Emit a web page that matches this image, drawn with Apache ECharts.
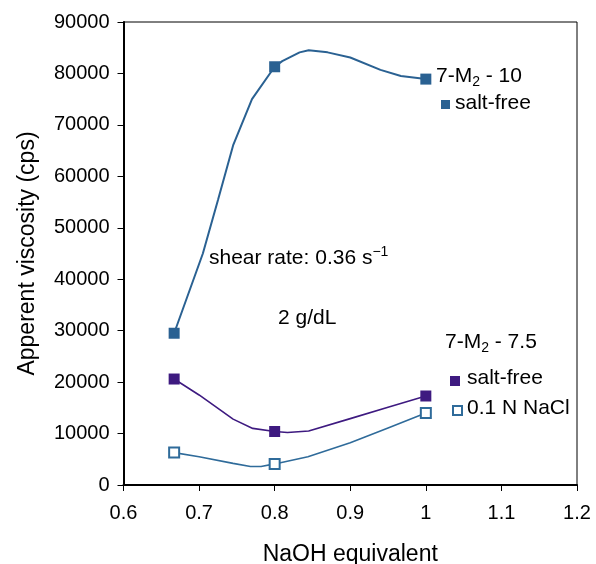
<!DOCTYPE html>
<html>
<head>
<meta charset="utf-8">
<script src="https://cdn.jsdelivr.net/npm/echarts@6/dist/echarts.min.js"></script>
<style>html,body{margin:0;padding:0;background:#fff;}#c{width:596px;height:564px;}</style>
</head>
<body>
<div id="c"></div>
<script>
// Marker data (measured points)
const naohEq = [0.667, 0.8, 1.0];
const saltFree10 = [29500, 81300, 78900];
const saltFree75 = [20600, 10400, 17300];
const nacl75 = [6300, 4100, 14000];

// Smoothed trend curves
const curve10X = [0.667, 0.705, 0.725, 0.745, 0.77, 0.8, 0.81, 0.833, 0.845, 0.87, 0.9, 0.94, 0.967, 1.0];
const curve10Y = [29500, 45000, 55400, 66000, 75000, 81300, 82400, 84100, 84500, 84100, 83100, 80700, 79500, 78900];
const curveSalt75X = [0.667, 0.7, 0.745, 0.771, 0.8, 0.817, 0.845, 0.9, 0.95, 1.0];
const curveSalt75Y = [20600, 17500, 12800, 11000, 10400, 10200, 10500, 12900, 15100, 17300];
const curveNacl75X = [0.667, 0.7, 0.745, 0.768, 0.782, 0.8, 0.844, 0.9, 0.95, 1.0];
const curveNacl75Y = [6300, 5500, 4200, 3600, 3600, 4100, 5500, 8200, 11100, 14000];

// Axis ticks
const xTicks = [0.6, 0.7, 0.8, 0.9, 1, 1.1, 1.2];
const yTicks = [0, 10000, 20000, 30000, 40000, 50000, 60000, 70000, 80000, 90000];

const zip = (xs, ys) => xs.map((x, i) => [x, ys[i]]);

const BLUE = '#2a6192';
const PURPLE = '#3e1a80';
const OPENBLUE = '#2f6b9a';
const FONT = 'Liberation Sans';

const chart = echarts.init(document.getElementById('c'), null, {renderer: 'canvas'});
chart.setOption({
  animation: false,
  backgroundColor: '#fff',
  textStyle: {fontFamily: FONT},
  grid: {left: 123.5, right: 19, top: 22, bottom: 79, show: true, borderColor: '#000', borderWidth: 1,
    backgroundColor: 'transparent', containLabel: false, outerBoundsMode: 'none'},
  xAxis: {
    type: 'value', min: xTicks[0], max: xTicks[xTicks.length - 1], interval: 0.1,
    name: 'NaOH equivalent', nameLocation: 'middle', nameGap: 58,
    nameTextStyle: {fontSize: 23, color: '#000', fontFamily: FONT},
    axisLine: {show: true, onZero: false, lineStyle: {color: '#000', width: 2}},
    axisTick: {show: true, inside: false, length: 6, lineStyle: {color: '#000', width: 1}},
    axisLabel: {fontSize: 20, color: '#000', margin: 18, fontFamily: FONT,
      formatter: v => { const m = xTicks.find(t => Math.abs(t - v) < 1e-9); return m === undefined ? '' : String(m); }},
    splitLine: {show: false}
  },
  yAxis: {
    type: 'value', min: yTicks[0], max: yTicks[yTicks.length - 1], interval: 10000,
    name: 'Apperent viscosity (cps)', nameLocation: 'middle', nameGap: 84,
    nameTextStyle: {fontSize: 23, color: '#000', fontFamily: FONT},
    axisLine: {show: true, onZero: false, lineStyle: {color: '#000', width: 2}},
    axisTick: {show: true, inside: false, length: 6, lineStyle: {color: '#000', width: 1}},
    axisLabel: {fontSize: 20, color: '#000', margin: 14, fontFamily: FONT,
      formatter: v => String(Math.round(v))},
    splitLine: {show: false}
  },
  series: [
    {type: 'line', data: zip(curve10X, curve10Y), showSymbol: false, symbol: 'none', lineStyle: {color: BLUE, width: 2}, z: 2},
    {type: 'line', data: zip(curveSalt75X, curveSalt75Y), showSymbol: false, symbol: 'none', lineStyle: {color: PURPLE, width: 1.6}, z: 2},
    {type: 'line', data: zip(curveNacl75X, curveNacl75Y), showSymbol: false, symbol: 'none', lineStyle: {color: OPENBLUE, width: 1.6}, z: 2},
    {type: 'scatter', data: zip(naohEq, saltFree10), symbol: 'rect', symbolSize: 11, itemStyle: {color: BLUE, opacity: 1}, z: 3},
    {type: 'scatter', data: zip(naohEq, saltFree75), symbol: 'rect', symbolSize: 11, itemStyle: {color: PURPLE, opacity: 1}, z: 3},
    {type: 'scatter', data: zip(naohEq, nacl75), symbol: 'rect', symbolSize: 10, itemStyle: {color: '#fff', borderColor: OPENBLUE, borderWidth: 2, opacity: 1}, z: 3}
  ],
  graphic: [
    {type: 'text', left: 436, top: 66, style: {
      text: '7-M{sub|2} - 10', font: '21px "Liberation Sans"', fill: '#000',
      rich: {sub: {fontSize: 14, fontFamily: FONT, padding: [12, 0, 0, 0]}}}},
    {type: 'rect', shape: {x: 441, y: 100, width: 9, height: 9}, style: {fill: BLUE}},
    {type: 'text', left: 455, top: 93, style: {text: 'salt-free', font: '21px "Liberation Sans"', fill: '#000'}},
    {type: 'text', left: 209, top: 245, style: {
      text: 'shear rate: 0.36 s{sup|\u22121}', font: '21px "Liberation Sans"', fill: '#000',
      rich: {sup: {fontSize: 14, fontFamily: FONT, padding: [0, 0, 12, 0]}}}},
    {type: 'text', left: 278, top: 308, style: {text: '2 g/dL', font: '21px "Liberation Sans"', fill: '#000'}},
    {type: 'text', left: 445, top: 332, style: {
      text: '7-M{sub|2} - 7.5', font: '21px "Liberation Sans"', fill: '#000',
      rich: {sub: {fontSize: 14, fontFamily: FONT, padding: [12, 0, 0, 0]}}}},
    {type: 'rect', shape: {x: 450, y: 376, width: 10, height: 10}, style: {fill: PURPLE}},
    {type: 'text', left: 467, top: 368, style: {text: 'salt-free', font: '21px "Liberation Sans"', fill: '#000'}},
    {type: 'rect', shape: {x: 453, y: 406, width: 9, height: 9}, style: {fill: '#fff', stroke: OPENBLUE, lineWidth: 2}},
    {type: 'text', left: 467, top: 398, style: {text: '0.1 N NaCl', font: '21px "Liberation Sans"', fill: '#000'}}
  ]
});
</script>
</body>
</html>
